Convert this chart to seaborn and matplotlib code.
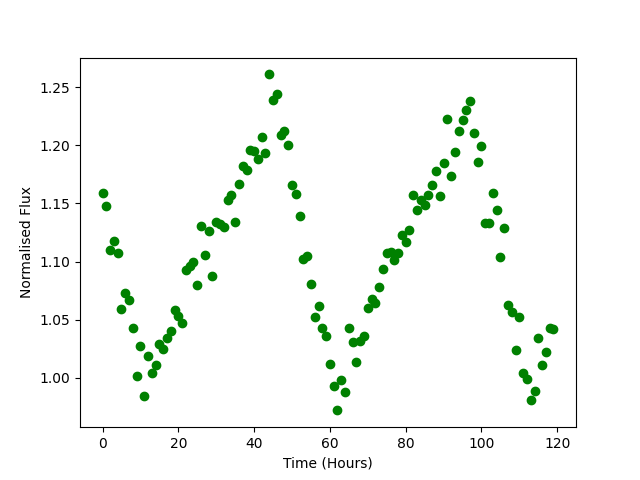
import matplotlib
matplotlib.use("Agg")
import matplotlib.pyplot as plt
import seaborn as sns
import pandas as pd

# hourly samples, flux
time_hours = list(range(120))
flux = [
    1.159, 1.148, 1.110, 1.118, 1.107, 1.059, 1.073, 1.067, 1.043, 1.002,
    1.027, 0.984, 1.019, 1.004, 1.011, 1.029, 1.025, 1.034, 1.040, 1.058,
    1.053, 1.047, 1.093, 1.096, 1.100, 1.080, 1.131, 1.106, 1.126, 1.088,
    1.134, 1.132, 1.130, 1.153, 1.157, 1.134, 1.167, 1.182, 1.179, 1.196,
    1.195, 1.188, 1.207, 1.193, 1.261, 1.239, 1.244, 1.209, 1.212, 1.200,
    1.166, 1.158, 1.139, 1.102, 1.105, 1.081, 1.052, 1.062, 1.043, 1.036,
    1.012, 0.993, 0.972, 0.998, 0.988, 1.043, 1.031, 1.014, 1.032, 1.036,
    1.060, 1.068, 1.064, 1.078, 1.094, 1.107, 1.108, 1.101, 1.107, 1.123,
    1.117, 1.127, 1.157, 1.144, 1.153, 1.149, 1.157, 1.166, 1.178, 1.156,
    1.185, 1.223, 1.174, 1.194, 1.212, 1.222, 1.230, 1.238, 1.211, 1.186,
    1.199, 1.133, 1.133, 1.159, 1.144, 1.104, 1.129, 1.063, 1.057, 1.024,
    1.052, 1.004, 0.999, 0.981, 0.989, 1.034, 1.011, 1.022, 1.043, 1.042,
]

df = pd.DataFrame({"Time": time_hours, "Flux": flux})

fig, ax = plt.subplots(figsize=(6.4, 4.8), dpi=100)
sns.scatterplot(data=df, x="Time", y="Flux", color="green",
                edgecolor="green", linewidth=1, s=36, ax=ax)
ax.set_xlabel("Time (Hours)")
ax.set_ylabel("Normalised Flux")

fig.savefig("out.png")
